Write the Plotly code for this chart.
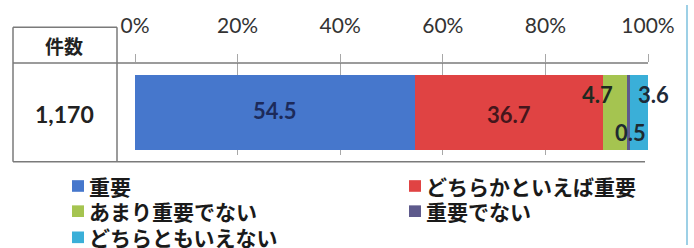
import plotly.graph_objects as go

# ---- data ----
categories = ["重要", "どちらかといえば重要", "あまり重要でない", "重要でない", "どちらともいえない"]
values = [54.5, 36.7, 4.7, 0.5, 3.6]
colors = ["#4677CC", "#E04343", "#A5C450", "#5E5A8C", "#3AAFD8"]
label_colors = ["#1C2A5A", "#45161C", "#1E2A20", "#1E2A30", "#1E2A38"]
count_header = "件数"
counts = ["1,170"]
tick_vals = [0, 20, 40, 60, 80, 100]
tick_text = ["0%", "20%", "40%", "60%", "80%", "100%"]

W, H = 694, 248
L, R, T, B = 135, 46, 60, 93
PW, PH = W - L - R, H - T - B

def px(x):
    return (x - L) / PW

def py(y):
    return (H - B - y) / PH

JP = "Noto Sans CJK JP"
NUM = "Lato"

fig = go.Figure()
for name, v, c in zip(categories, values, colors):
    fig.add_trace(go.Bar(
        x=[v], y=[0], orientation="h", name=name,
        marker=dict(color=c, line=dict(width=0)),
        width=0.82, showlegend=False, hoverinfo="skip",
    ))

# data labels from cumulative values
label_offsets = [(0, 2), (0, -2), (-17, 18), (2, -20), (15, 18)]
cum = 0
annotations = []
for v, lc, (dx, dy) in zip(values, label_colors, label_offsets):
    mid = cum + v / 2
    cum += v
    annotations.append(dict(
        x=mid, y=0, xref="x", yref="y", text=f"{v:.1f}", showarrow=False,
        xanchor="center", yanchor="middle", xshift=dx, yshift=dy,
        font=dict(family=NUM, size=22, color=lc, weight="bold"),
    ))

# table texts
annotations.append(dict(x=px(64), y=py(42), xref="paper", yref="paper", text=count_header,
                        xanchor="center", yanchor="middle", showarrow=False,
                        font=dict(family=JP, size=19, color="#222", weight="bold")))
annotations.append(dict(x=px(64), y=py(113), xref="paper", yref="paper", text=counts[0],
                        xanchor="center", yanchor="middle", showarrow=False,
                        font=dict(family=NUM, size=23, color="#222", weight="bold")))

shapes = []
line = dict(color="#7A7A7A", width=1.5)
# table borders
shapes.append(dict(type="line", xref="paper", yref="paper", x0=px(13), x1=px(117), y0=py(23), y1=py(23), line=line))
shapes.append(dict(type="line", xref="paper", yref="paper", x0=px(13), x1=px(13), y0=py(23), y1=py(162), line=line))
shapes.append(dict(type="line", xref="paper", yref="paper", x0=px(117), x1=px(117), y0=py(23), y1=py(162), line=line))
shapes.append(dict(type="line", xref="paper", yref="paper", x0=px(13), x1=px(648), y0=py(60), y1=py(60), line=line))
shapes.append(dict(type="line", xref="paper", yref="paper", x0=px(13), x1=px(645), y0=py(162), y1=py(162), line=line))
# right frame border
shapes.append(dict(type="line", xref="paper", yref="paper", x0=px(687), x1=px(687), y0=py(0), y1=py(248),
                   line=dict(color="#9DD0E6", width=2)))

# manual legend (two columns, row-major)
col_x = [72, 409]
row_y = [187, 213, 240]
for i, (name, c) in enumerate(zip(categories, colors)):
    cx = col_x[i % 2]
    cy = row_y[i // 2]
    shapes.append(dict(type="rect", xref="paper", yref="paper",
                       x0=px(cx), x1=px(cx + 12), y0=py(cy + 6), y1=py(cy - 6),
                       fillcolor=c, line=dict(width=0)))
    annotations.append(dict(x=px(cx + 15), y=py(cy), xref="paper", yref="paper", text=name,
                            xanchor="left", yanchor="middle", showarrow=False,
                            font=dict(family=JP, size=21, color="#1A1A1A", weight="bold")))

fig.update_layout(
    width=W, height=H, margin=dict(l=L, r=R, t=T, b=B),
    paper_bgcolor="white", plot_bgcolor="white",
    barmode="stack", bargap=0,
    annotations=annotations, shapes=shapes,
    xaxis=dict(side="top", range=[0, 100], tickvals=tick_vals, ticktext=tick_text,
               showgrid=True, gridcolor="#A8A8A8", gridwidth=1.3,
               ticks="outside", ticklen=8, tickcolor="#A8A8A8", tickwidth=1.3,
               ticklabelstandoff=13,
               showline=False, zeroline=False, fixedrange=True,
               tickfont=dict(family=NUM, size=21, color="#333")),
    yaxis=dict(range=[-0.463, 0.537], visible=False, fixedrange=True),
)

fig.write_html("out.html", config={"displayModeBar": False},
               post_script="document.body.style.margin='0px';")
